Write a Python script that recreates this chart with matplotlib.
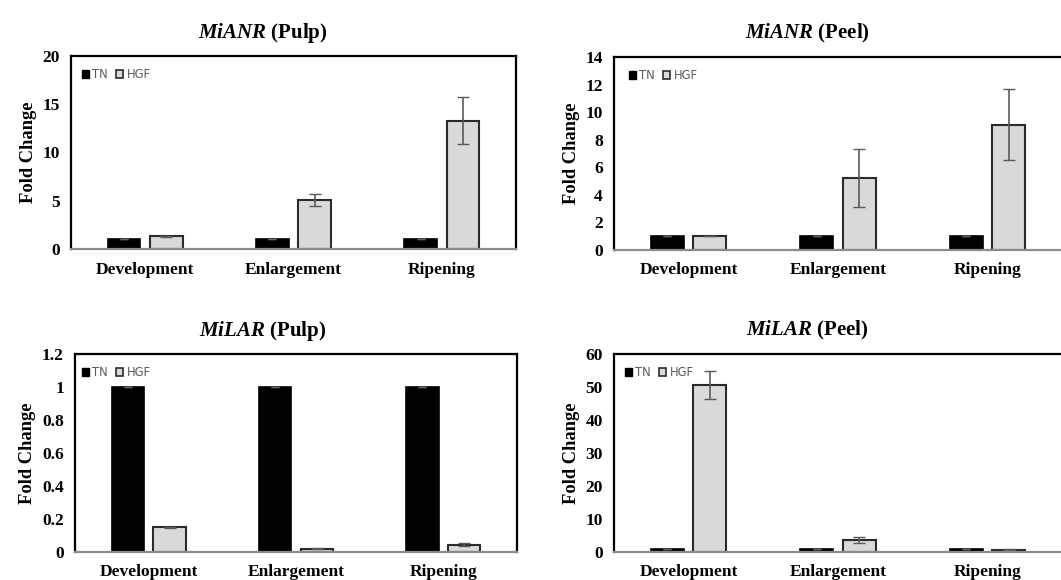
import numpy as np
import matplotlib.pyplot as plt
from matplotlib.patches import Patch

stages = ["Development", "Enlargement", "Ripening"]

anr_pulp_tn = [1.0, 1.0, 1.0]
anr_pulp_hgf = [1.3, 5.1, 13.3]
anr_pulp_err = [0.02, 0.6, 2.4]

anr_peel_tn = [1.0, 1.0, 1.0]
anr_peel_hgf = [1.0, 5.2, 9.1]
anr_peel_err = [0.02, 2.1, 2.6]

lar_pulp_tn = [1.0, 1.0, 1.0]
lar_pulp_hgf = [0.15, 0.02, 0.045]
lar_pulp_err = [0.004, 0.003, 0.01]

lar_peel_tn = [0.9, 0.9, 0.9]
lar_peel_hgf = [50.5, 3.5, 0.7]
lar_peel_err = [4.2, 0.9, 0.1]

serif = "Liberation Serif"
plt.rcParams['font.family'] = [serif, 'DejaVu Serif']
plt.rcParams['mathtext.fontset'] = 'custom'
plt.rcParams['mathtext.it'] = serif + ':italic:bold'
plt.rcParams['mathtext.bf'] = serif + ':bold'

W, H = 1061, 580
fig = plt.figure(figsize=(W / 100, H / 100), dpi=100)


def panel(rect, title_x, gene, part, tn, hgf, err, ymax, ystep, fmt, leg_px):
    l, t, r, b = rect
    ax = fig.add_axes([l / W, 1 - b / H, (r - l) / W, (b - t) / H])
    x = np.arange(len(stages))
    w = 0.22
    off = 0.142
    ax.bar(x - off, tn, w, color="black", edgecolor="black", linewidth=1.2,
           yerr=[0.01 * ymax / 20] * 3, error_kw=dict(ecolor="#666666", capsize=3, elinewidth=1))
    ax.bar(x + off, hgf, w, color="#d9d9d9", edgecolor="#2b2b2b", linewidth=1.5,
           yerr=err, error_kw=dict(ecolor="#5a5a5a", capsize=4, elinewidth=1.2))
    ax.set_xlim(-0.5, 2.5)
    ax.set_ylim(0, ymax)
    ticks = np.arange(0, ymax + ystep / 2, ystep)
    ax.set_yticks(ticks)
    ax.set_yticklabels([fmt(v) for v in ticks], fontsize=12.5, fontweight="bold")
    ax.set_xticks(x)
    ax.set_xticklabels(stages, fontsize=12.5, fontweight="bold")
    ax.tick_params(axis="both", length=0)
    ax.tick_params(axis="x", pad=9)
    ax.tick_params(axis="y", pad=8)
    for s in ["top", "left", "right"]:
        ax.spines[s].set_linewidth(1.6)
        ax.spines[s].set_color("black")
    ax.spines["bottom"].set_color("#8c8c8c")
    ax.spines["bottom"].set_linewidth(1.6)
    ax.set_ylabel("Fold Change", fontsize=13.3, fontweight="bold", labelpad=4)
    ax.set_title(r"$\bf\it{" + gene + r"}$" + " (" + part + ")", fontsize=15,
                 fontweight="bold", pad=13, x=(title_x - l) / (r - l))
    handles = [Patch(facecolor="black", edgecolor="black", label="TN"),
               Patch(facecolor="#d9d9d9", edgecolor="#2b2b2b", linewidth=1.2, label="HGF")]
    ax.legend(handles=handles, loc="upper left", ncol=2, frameon=False,
              prop={"family": "DejaVu Sans", "size": 8.3}, labelcolor="#595959",
              handlelength=0.6, handleheight=0.6, handletextpad=0.3, columnspacing=0.7,
              borderaxespad=0.0, borderpad=0.0,
              bbox_to_anchor=(leg_px / (r - l), 1 - 12 / (b - t)))
    return ax


panel((71, 56, 516, 249), 263, "MiANR", "Pulp", anr_pulp_tn, anr_pulp_hgf, anr_pulp_err,
      20, 5, lambda v: "%d" % v, 11)
panel((614, 57, 1062, 250), 807, "MiANR", "Peel", anr_peel_tn, anr_peel_hgf, anr_peel_err,
      14, 2, lambda v: "%d" % v, 15)
panel((75, 354, 517, 552), 263, "MiLAR", "Pulp", lar_pulp_tn, lar_pulp_hgf, lar_pulp_err,
      1.2, 0.2, lambda v: ("%g" % round(v, 1)), 7)
panel((614, 354, 1062, 552), 807, "MiLAR", "Peel", lar_peel_tn, lar_peel_hgf, lar_peel_err,
      60, 10, lambda v: "%d" % v, 11)

fig.savefig("out.png", dpi=100)
